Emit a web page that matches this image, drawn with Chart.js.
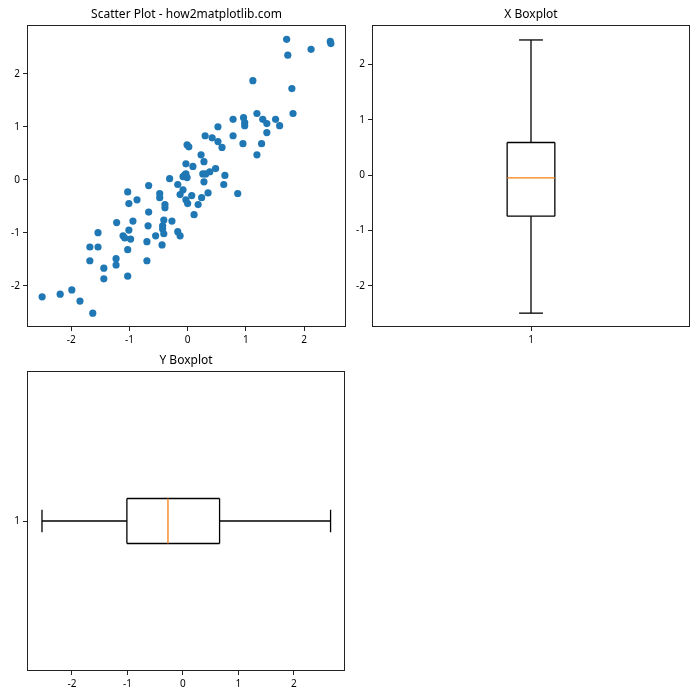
<!DOCTYPE html>
<html>
<head>
<meta charset="utf-8">
<script src="https://cdn.jsdelivr.net/npm/chart.js@4.4.0/dist/chart.umd.min.js"></script>
<style>
  body { margin: 0; background: #fff; }
  #wrap { position: relative; width: 700px; height: 700px; }
  canvas { position: absolute; }
</style>
</head>
<body>
<div id="wrap">
  <canvas id="scatterChart" width="350" height="345" style="left:0;top:0"></canvas>
  <canvas id="xBoxChart" width="350" height="345" style="left:350px;top:0"></canvas>
  <canvas id="yBoxChart" width="350" height="355" style="left:0;top:345px"></canvas>
</div>
<script>
// scatter points
const scatterX = [-2.50, -2.19, -1.99, -1.85, -1.63, -1.68, -1.68, -1.54, -1.54, -1.44,
  -1.44, -1.23, -1.23, -1.22, -1.11, -1.08, -0.98, -1.03, -1.03, -1.03,
  -1.01, -1.01, -0.94, -0.87, -0.67, -0.67, -0.68, -0.70, -0.70, -0.48,
  -0.48, -0.39, -0.39, -0.41, -0.43, -0.43, -0.55, -0.41, -0.44, -0.27,
  -0.31, -0.17, -0.08, -0.05, -0.08, -0.13, -0.03, 0.00, -0.17, -0.13,
  -0.01, -0.03, 0.09, -0.01, 0.02, 0.23, 0.28, 0.30, 0.42, 0.52,
  0.59, 0.52, 0.78, 0.78, 0.95, 0.48, 0.38, 0.26, 0.31, 0.64,
  0.28, 0.62, 0.86, 0.35, 0.24, 0.07, 0.18, 0.11, 0.96, 0.98,
  0.98, 1.19, 1.29, 1.36, 1.51, 1.58, 1.81, 1.36, 1.27, 1.19,
  1.12, 1.79, 1.70, 1.72, 2.12, 2.45, 2.46, -0.03];
const scatterY = [-2.21, -2.16, -2.08, -2.29, -2.52, -1.53, -1.27, -1.27, -1.00, -1.67,
  -1.87, -1.49, -1.61, -0.81, -1.06, -1.10, -1.12, -1.32, -1.82, -0.23,
  -0.45, -0.95, -0.78, -0.38, -0.11, -0.61, -0.87, -1.17, -1.53, -0.26,
  -0.34, -0.47, -0.53, -0.76, -0.87, -0.93, -1.06, -1.02, -1.23, -0.78,
  0.02, -0.09, 0.06, 0.09, -0.19, -0.28, -0.38, -0.45, -0.98, -1.06,
  0.04, 0.30, 0.25, 0.66, 0.62, 0.47, 0.34, 0.83, 0.79, 0.72,
  0.61, 1.00, 0.83, 1.14, 0.68, 0.21, 0.15, 0.11, 0.11, 0.08,
  -0.04, -0.09, -0.26, -0.25, -0.34, -0.30, -0.47, -0.66, 1.17, 1.08,
  1.02, 1.25, 1.14, 1.06, 1.14, 1.02, 1.25, 0.89, 0.68, 0.47,
  1.87, 1.72, 2.65, 2.35, 2.46, 2.61, 2.57, 0.11];

// boxplot stats: [lower whisker, q1, median, q3, upper whisker]
const xBoxStats = [-2.49, -0.74, -0.05, 0.59, 2.44];
const yBoxStats = [-2.54, -1.01, -0.27, 0.66, 2.66];

const intTicks = [-2, -1, 0, 1, 2];
const boxTicks = [1];

const FONT = '"Noto Sans", "Open Sans", sans-serif';
const tickFont = { family: FONT, size: 10 };

// full frame round the plot area like matplotlib spines, plus the title centred on it
const frame = {
  id: 'frame',
  afterDraw(chart, args, opts) {
    const { ctx, chartArea: a } = chart;
    ctx.save();
    ctx.strokeStyle = '#222';
    ctx.lineWidth = 1;
    ctx.strokeRect(Math.round(a.left) + 0.5, Math.round(a.top) + 0.5,
      Math.round(a.right - a.left) - 1, Math.round(a.bottom - a.top) - 1);
    if (opts.title) {
      ctx.fillStyle = '#000';
      ctx.font = '12px ' + FONT;
      ctx.textAlign = 'center';
      ctx.textBaseline = 'middle';
      ctx.fillText(opts.title, (a.left + a.right) / 2, a.top - 10);
    }
    ctx.restore();
  }
};

// boxplot drawn through the chart's own scales
const boxes = {
  id: 'boxes',
  afterDatasetsDraw(chart, args, opts) {
    if (!opts.stats) return;
    const ctx = chart.ctx;
    const s = opts.stats;
    const vert = opts.vertical;
    const vs = vert ? chart.scales.y : chart.scales.x;
    const ps = vert ? chart.scales.x : chart.scales.y;
    const v = s.map(d => vs.getPixelForValue(d));
    const b0 = ps.getPixelForValue(opts.position - 0.075);
    const b1 = ps.getPixelForValue(opts.position + 0.075);
    const c0 = ps.getPixelForValue(opts.position - 0.0375);
    const c1 = ps.getPixelForValue(opts.position + 0.0375);
    const mid = ps.getPixelForValue(opts.position);
    const seg = (p0, q0, p1, q1) => {
      ctx.beginPath();
      if (vert) { ctx.moveTo(p0, q0); ctx.lineTo(p1, q1); }
      else { ctx.moveTo(q0, p0); ctx.lineTo(q1, p1); }
      ctx.stroke();
    };
    ctx.save();
    ctx.lineWidth = 1.3;
    ctx.strokeStyle = '#000';
    // whiskers
    seg(mid, v[0], mid, v[1]);
    seg(mid, v[3], mid, v[4]);
    // caps
    seg(c0, v[0], c1, v[0]);
    seg(c0, v[4], c1, v[4]);
    // box
    seg(b0, v[1], b1, v[1]);
    seg(b0, v[3], b1, v[3]);
    seg(b0, v[1], b0, v[3]);
    seg(b1, v[1], b1, v[3]);
    // median
    ctx.strokeStyle = '#f47f0e';
    seg(b0, v[2], b1, v[2]);
    ctx.restore();
  }
};

function axis(min, max, tickVals, fitProp, fitVal) {
  return {
    type: 'linear',
    min: min,
    max: max,
    afterBuildTicks: ax => { ax.ticks = tickVals.map(v => ({ value: v })); },
    afterFit: ax => { ax[fitProp] = fitVal; },
    border: { display: false },
    grid: { drawOnChartArea: false, drawTicks: true, tickLength: 4, tickColor: '#222' },
    ticks: { font: tickFont, color: '#000', padding: 3, maxRotation: 0, autoSkip: false }
  };
}

new Chart(document.getElementById('scatterChart'), {
  type: 'scatter',
  data: {
    datasets: [{
      data: scatterX.map((x, i) => ({ x: x, y: scatterY[i] })),
      backgroundColor: '#1f77b4',
      borderWidth: 0,
      pointRadius: 3.6
    }]
  },
  options: {
    responsive: false,
    animation: false,
    layout: { padding: { top: 25, right: 4 } },
    plugins: {
      legend: { display: false }, tooltip: { enabled: false },
      frame: { title: 'Scatter Plot - how2matplotlib.com' }
    },
    scales: {
      x: axis(-2.76, 2.72, intTicks, 'height', 18),
      y: axis(-2.78, 2.92, intTicks, 'width', 27)
    }
  },
  plugins: [frame]
});

new Chart(document.getElementById('xBoxChart'), {
  type: 'scatter',
  data: { datasets: [] },
  options: {
    responsive: false,
    animation: false,
    layout: { padding: { top: 25, right: 10 } },
    plugins: {
      legend: { display: false }, tooltip: { enabled: false },
      frame: { title: 'X Boxplot' },
      boxes: { stats: xBoxStats, position: 1, vertical: true }
    },
    scales: {
      x: axis(0.5, 1.5, boxTicks, 'height', 18),
      y: axis(-2.74, 2.71, intTicks, 'width', 22)
    }
  },
  plugins: [frame, boxes]
});

new Chart(document.getElementById('yBoxChart'), {
  type: 'scatter',
  data: { datasets: [] },
  options: {
    responsive: false,
    animation: false,
    layout: { padding: { top: 26, right: 5 } },
    plugins: {
      legend: { display: false }, tooltip: { enabled: false },
      frame: { title: 'Y Boxplot' },
      boxes: { stats: yBoxStats, position: 1, vertical: false }
    },
    scales: {
      x: axis(-2.81, 2.92, intTicks, 'height', 29),
      y: axis(0.5, 1.5, boxTicks, 'width', 27)
    }
  },
  plugins: [frame, boxes]
});
</script>
</body>
</html>
